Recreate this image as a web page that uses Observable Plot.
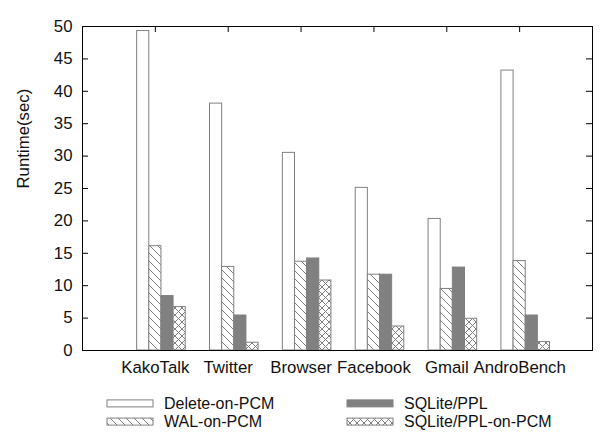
<!DOCTYPE html>
<html><head><meta charset="utf-8">
<script src="https://cdn.jsdelivr.net/npm/d3@7"></script>
<script src="https://cdn.jsdelivr.net/npm/@observablehq/plot@0.6"></script>
<style>
body{margin:0;background:#fff;font-family:"Liberation Sans",Arial,sans-serif;}
#chart svg{display:block;}
</style>
</head><body><div id="chart"></div>
<script>
const categories = ["KakoTalk", "Twitter", "Browser", "Facebook", "Gmail", "AndroBench"];
const seriesNames = ["Delete-on-PCM", "WAL-on-PCM", "SQLite/PPL", "SQLite/PPL-on-PCM"];
const deleteOnPCM = [49.3, 38.1, 30.5, 25.1, 20.3, 43.2];
const walOnPCM    = [16.1, 12.9, 13.7, 11.7, 9.5, 13.8];
const sqlitePPL   = [8.4, 5.4, 14.2, 11.7, 12.8, 5.4];
const pplOnPCM    = [6.7, 1.2, 10.8, 3.7, 4.9, 1.3];
const yTicks = [0, 5, 10, 15, 20, 25, 30, 35, 40, 45, 50];

const seriesValues = [deleteOnPCM, walOnPCM, sqlitePPL, pplOnPCM];
const fills = ["white", "url(#pDiag)", "#808080", "url(#pCross)"];
const GRAY = "#808080";
const FS = 16.8;
const LEG_FS = 16;

// bar layout: gnuplot clustered histogram, 4 bars + gap of 2 -> bar width 1/6
const bw = 1 / 6;
const rows = seriesValues.map((vals, k) => vals.map((v, i) => ({
  series: seriesNames[k], cat: categories[i],
  x1: (i + 1) - 0.25 + k * bw, x2: (i + 1) - 0.25 + (k + 1) * bw, value: v
})));

const defsMark = () => {
  const ns = "http://www.w3.org/2000/svg";
  const defs = document.createElementNS(ns, "defs");
  defs.innerHTML = `
    <pattern id="pDiag" patternUnits="userSpaceOnUse" width="8" height="8">
      <rect width="8" height="8" fill="white"/>
      <path d="M-2,-2L10,10M-2,6L2,10M6,-2L10,2" stroke="${GRAY}" stroke-width="1" fill="none"/>
    </pattern>
    <pattern id="pCross" patternUnits="userSpaceOnUse" width="7" height="7">
      <rect width="7" height="7" fill="white"/>
      <path d="M-2,-2L9,9M-2,5L2,9M5,-2L9,2M-2,9L9,-2M-2,2L2,-2M5,9L9,5" stroke="${GRAY}" stroke-width="1" fill="none"/>
    </pattern>`;
  return defs;
};

const W = 612, H = 388, mL = 82, mR = 20, mT = 26, mB = H - 350;
const frameW = W - mL - mR, frameH = H - mT - mB;
const tickLen = 6;

const plot = Plot.plot({
  width: W, height: H,
  marginLeft: mL, marginRight: mR, marginTop: mT, marginBottom: mB,
  style: {fontFamily: '"Liberation Sans", Arial, sans-serif', fontSize: FS + "px", color: "#111", background: "white"},
  x: {domain: [0, 7], axis: null},
  y: {domain: [0, 50], axis: null},
  marks: [
    defsMark,
    ...rows.map((r, k) => Plot.rectY(r, {x1: "x1", x2: "x2", y1: 0, y2: "value", fill: fills[k], stroke: GRAY, strokeWidth: 1})),
    Plot.axisY({ticks: yTicks, tickSize: 0, tickPadding: 10, fontSize: FS, label: null}),
    Plot.axisX({ticks: categories.map((c, i) => i + 1), tickFormat: d => categories[d - 1], tickSize: 0, tickPadding: 11, fontSize: FS, label: null}),
    Plot.tickY(yTicks, {y: d => d, insetRight: frameW - tickLen, stroke: "black"}),
    Plot.tickY(yTicks, {y: d => d, insetLeft: frameW - tickLen, stroke: "black"}),
    Plot.tickX(categories.map((c, i) => i + 1), {x: d => d, insetBottom: frameH - tickLen, stroke: "black"}),
    Plot.frame({stroke: "black", strokeWidth: 1}),
    Plot.text(["Runtime(sec)"], {frameAnchor: "left", dx: -59, rotate: -90, text: d => d, fontSize: FS, lineAnchor: "middle", fill: "#111"})
  ]
});
document.getElementById("chart").appendChild(plot);

// legend below the plot
const leg = d3.select("#chart").append("svg").attr("width", W).attr("height", 60)
  .style("font-family", '"Liberation Sans", Arial, sans-serif').style("font-size", LEG_FS + "px");
const legPos = [[107, 15.4], [107, 33.6], [347, 15.4], [347, 33.6]];
seriesNames.forEach((name, k) => {
  const [x, y] = legPos[k];
  leg.append("rect").attr("x", x).attr("y", y - 3.5).attr("width", 46).attr("height", 7)
    .attr("fill", fills[k]).attr("stroke", GRAY).attr("stroke-width", 1);
  leg.append("text").attr("x", x + 57).attr("y", y).attr("dy", "0.35em").attr("fill", "#111").text(name);
});
</script></body></html>
